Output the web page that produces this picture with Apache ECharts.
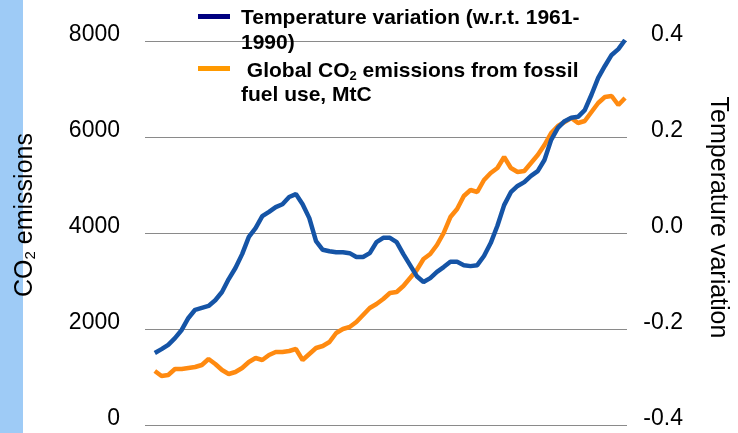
<!DOCTYPE html>
<html>
<head>
<meta charset="utf-8">
<script src="https://cdn.jsdelivr.net/npm/echarts@6/dist/echarts.min.js"></script>
<style>
	html, body { margin: 0; padding: 0; background: #fff; }
	#charts { width: 738px; height: 433px; }
</style>
</head>
<body>
<div id="charts"></div>
<script>
// years sampled every 2 years
const years = [
	1860, 1862, 1864, 1866, 1868, 1870, 1872, 1874, 1876, 1878,
	1880, 1882, 1884, 1886, 1888, 1890, 1892, 1894, 1896, 1898,
	1900, 1902, 1904, 1906, 1908, 1910, 1912, 1914, 1916, 1918,
	1920, 1922, 1924, 1926, 1928, 1930, 1932, 1934, 1936, 1938,
	1940, 1942, 1944, 1946, 1948, 1950, 1952, 1954, 1956, 1958,
	1960, 1962, 1964, 1966, 1968, 1970, 1972, 1974, 1976, 1978,
	1980, 1982, 1984, 1986, 1988, 1990, 1992, 1994, 1996, 1998,
	2000
]

// temperature variation w.r.t. 1961-1990 (right axis)
const temperature = [
	-0.25, -0.242, -0.233, -0.219, -0.202, -0.177, -0.16, -0.156, -0.152, -0.14,
	-0.123, -0.096, -0.073, -0.044, -0.008, 0.01, 0.035, 0.044, 0.054, 0.06,
	0.075, 0.081, 0.06, 0.031, -0.017, -0.035, -0.038, -0.04, -0.04, -0.042,
	-0.05, -0.05, -0.042, -0.019, -0.01, -0.01, -0.019, -0.044, -0.067, -0.09,
	-0.102, -0.094, -0.081, -0.071, -0.06, -0.06, -0.067, -0.069, -0.067, -0.048,
	-0.021, 0.015, 0.058, 0.085, 0.098, 0.106, 0.119, 0.129, 0.152, 0.194,
	0.219, 0.233, 0.24, 0.242, 0.256, 0.288, 0.323, 0.348, 0.371, 0.383,
	0.402
]

// global CO2 emissions, MtC (left axis)
const co2 = [
	1125, 1021, 1042, 1167, 1167, 1188, 1208, 1250, 1375, 1271,
	1146, 1063, 1104, 1188, 1313, 1396, 1354, 1458, 1521, 1521,
	1542, 1583, 1354, 1479, 1604, 1646, 1729, 1917, 2000, 2042,
	2146, 2292, 2438, 2521, 2625, 2750, 2771, 2896, 3063, 3229,
	3458, 3563, 3750, 4000, 4333, 4500, 4771, 4896, 4854, 5104,
	5250, 5354, 5583, 5354, 5271, 5292, 5458, 5625, 5833, 6083,
	6229, 6313, 6396, 6292, 6333, 6521, 6708, 6833, 6854, 6667,
	6813
]

const leftTicks = [0, 2000, 4000, 6000, 8000]
const rightTicks = [-0.4, -0.2, 0.0, 0.2, 0.4]

const font = '"Liberation Sans", Arial, sans-serif'

const chart = echarts.init(document.getElementById('charts'))

const toPairs = vals => vals.map((v, i) => [years[i], v])

chart.setOption({
	animation: false,
	grid: {
		left: 145,
		right: 101,
		top: 41,
		bottom: 8
	},
	xAxis: {
		type: 'value',
		min: 1857.08,
		max: 2000.58,
		show: false
	},
	yAxis: [
		{
			type: 'value',
			min: leftTicks[0],
			max: leftTicks[leftTicks.length - 1],
			interval: 2000,
			name: 'CO{s|2} emissions',
			nameLocation: 'middle',
			nameRotate: 90,
			nameGap: 107,
			nameTextStyle: {
				fontFamily: font,
				fontSize: 25,
				color: '#000',
				padding: [0, 0, 0, 36],
				rich: {
					s: { fontFamily: font, fontSize: 15, color: '#000', padding: [11, 0, 0, 0] }
				}
			},
			axisLine: { show: false },
			axisTick: { show: false },
			axisLabel: {
				fontFamily: font,
				fontSize: 23,
				color: '#000',
				margin: 25,
				verticalAlign: 'bottom',
				lineHeight: 12,
				formatter: v => String(v)
			},
			splitLine: {
				lineStyle: { color: '#8a8a8a', width: 1 }
			}
		},
		{
			type: 'value',
			min: rightTicks[0],
			max: rightTicks[rightTicks.length - 1],
			interval: 0.2,
			name: 'Temperature variation',
			nameLocation: 'middle',
			nameRotate: -90,
			nameGap: 78,
			nameTextStyle: {
				fontFamily: font,
				fontSize: 25,
				color: '#000',
				padding: [0, 31, 0, 0]
			},
			axisLine: { show: false },
			axisTick: { show: false },
			axisLabel: {
				fontFamily: font,
				fontSize: 23,
				color: '#000',
				align: 'right',
				margin: 56,
				verticalAlign: 'bottom',
				lineHeight: 12,
				formatter: v => v.toFixed(1)
			},
			splitLine: { show: false }
		}
	],
	graphic: [
		{
			type: 'rect',
			z: -10,
			shape: { x: 0, y: 0, width: 23, height: 433 },
			style: { fill: '#9ecbf6' }
		},
		{
			type: 'rect',
			z: 100,
			shape: { x: 198, y: 14, width: 32, height: 5 },
			style: { fill: '#000080' }
		},
		{
			type: 'text',
			z: 100,
			x: 241,
			y: 18,
			style: {
				text: 'Temperature variation (w.r.t. 1961-',
				font: 'bold 21px ' + font,
				fill: '#000',
				verticalAlign: 'middle'
			}
		},
		{
			type: 'text',
			z: 100,
			x: 241,
			y: 43,
			style: {
				text: '1990)',
				font: 'bold 21px ' + font,
				fill: '#000',
				verticalAlign: 'middle'
			}
		},
		{
			type: 'rect',
			z: 100,
			shape: { x: 198, y: 66, width: 32, height: 5 },
			style: { fill: '#ff9900' }
		},
		{
			type: 'text',
			z: 100,
			x: 241,
			y: 71,
			style: {
				text: ' Global CO{s|2} emissions from fossil',
				font: 'bold 21px ' + font,
				fill: '#000',
				verticalAlign: 'middle',
				rich: {
					s: { font: 'bold 13px ' + font, fill: '#000', padding: [10, 0, 0, 0] }
				}
			}
		},
		{
			type: 'text',
			z: 100,
			x: 241,
			y: 95,
			style: {
				text: 'fuel use, MtC',
				font: 'bold 21px ' + font,
				fill: '#000',
				verticalAlign: 'middle'
			}
		}
	],
	series: [
		{
			name: 'Global CO2 emissions from fossil fuel use, MtC',
			type: 'line',
			yAxisIndex: 0,
			data: toPairs(co2),
			showSymbol: false,
			lineStyle: { color: '#ff8a10', width: 4.5 },
			itemStyle: { color: '#ff8a10' }
		},
		{
			name: 'Temperature variation (w.r.t. 1961-1990)',
			type: 'line',
			yAxisIndex: 1,
			data: toPairs(temperature),
			showSymbol: false,
			lineStyle: { color: '#1554a6', width: 4.5 },
			itemStyle: { color: '#1554a6' }
		}
	]
})
</script>
</body>
</html>
